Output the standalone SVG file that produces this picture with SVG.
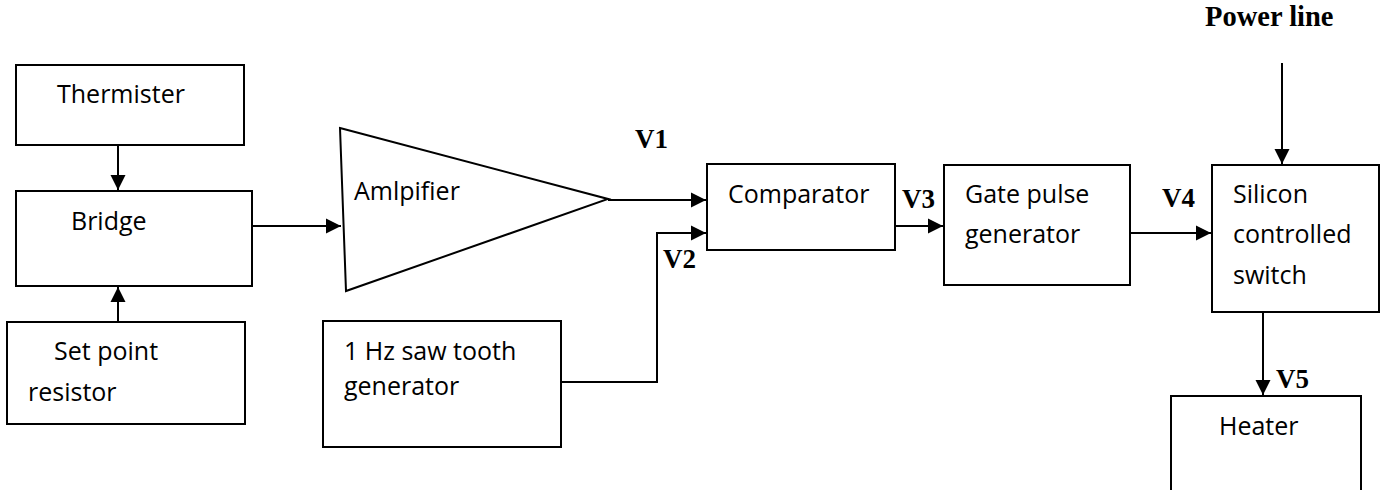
<svg xmlns="http://www.w3.org/2000/svg" width="1386" height="490" viewBox="0 0 1386 490">
<style>
.box{fill:#fff;stroke:#000;stroke-width:2}
.t{font-family:"Open Sans",sans-serif;font-size:25px;fill:#000}
.v{font-family:"Liberation Serif",serif;font-weight:bold;font-size:27px;fill:#000}
.c{fill:none;stroke:#000;stroke-width:2}
</style>
<defs>
<marker id="ah" markerUnits="userSpaceOnUse" markerWidth="17" markerHeight="17" viewBox="0 0 17 17" refX="16" refY="8.5" orient="auto">
<path d="M1,1 L16,8.5 L1,16 Z" fill="#000"/>
</marker>
</defs>
<rect width="1386" height="490" fill="#fff"/>
<g id="connectors">
<line class="c" x1="118" y1="145" x2="118" y2="190" marker-end="url(#ah)"/>
<line class="c" x1="118" y1="322" x2="118" y2="287" marker-end="url(#ah)"/>
<line class="c" x1="252" y1="226" x2="341" y2="226" marker-end="url(#ah)"/>
<line class="c" x1="608" y1="200" x2="706" y2="200" marker-end="url(#ah)"/>
<polyline class="c" points="561,382 657,382 657,233 706,233" marker-end="url(#ah)"/>
<line class="c" x1="895" y1="226" x2="943" y2="226" marker-end="url(#ah)"/>
<line class="c" x1="1130" y1="233" x2="1211" y2="233" marker-end="url(#ah)"/>
<line class="c" x1="1282" y1="63" x2="1282" y2="164" marker-end="url(#ah)"/>
<line class="c" x1="1263" y1="312" x2="1263" y2="395" marker-end="url(#ah)"/>
<text class="v" x="635" y="148">V1</text>
<text class="v" x="663" y="268">V2</text>
<text class="v" x="902" y="208">V3</text>
<text class="v" x="1162" y="207">V4</text>
<text class="v" x="1276" y="388">V5</text>
<text class="v" x="1205" y="26" style="font-size:28.5px">Power line</text>
</g>
<g id="thermister">
<rect class="box" x="16" y="65" width="228" height="80"/>
<text class="t" x="57" y="103">Thermister</text>
</g>
<g id="bridge">
<rect class="box" x="16" y="191" width="236" height="95"/>
<text class="t" x="71" y="230">Bridge</text>
</g>
<g id="setpoint">
<rect class="box" x="7" y="322" width="238" height="102"/>
<text class="t" x="54" y="360">Set point</text>
<text class="t" x="28" y="401">resistor</text>
</g>
<g id="amplifier">
<polygon class="box" points="340,128 608,199 346,291"/>
<text class="t" x="354" y="200">Amlpifier</text>
</g>
<g id="sawtooth">
<rect class="box" x="323" y="321" width="238" height="126"/>
<text class="t" x="344" y="360">1 Hz saw tooth</text>
<text class="t" x="344" y="395">generator</text>
</g>
<g id="comparator">
<rect class="box" x="707" y="164" width="188" height="86"/>
<text class="t" x="728" y="203">Comparator</text>
</g>
<g id="gatepulse">
<rect class="box" x="944" y="165" width="186" height="120"/>
<text class="t" x="965" y="203">Gate pulse</text>
<text class="t" x="965" y="243">generator</text>
</g>
<g id="scs">
<rect class="box" x="1212" y="165" width="167" height="147"/>
<text class="t" x="1233" y="203">Silicon</text>
<text class="t" x="1233" y="243">controlled</text>
<text class="t" x="1233" y="284">switch</text>
</g>
<g id="heater">
<rect class="box" x="1171" y="396" width="190" height="110"/>
<text class="t" x="1219" y="435">Heater</text>
</g>
</svg>
